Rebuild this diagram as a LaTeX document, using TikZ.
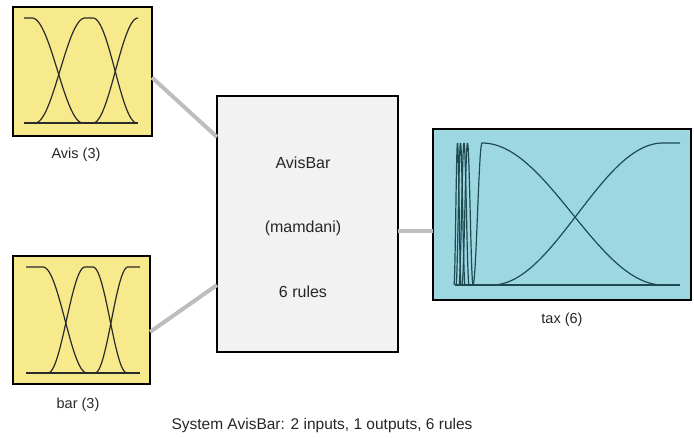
\documentclass[tikz,border=0pt]{standalone}
\usepackage{fontspec}
\setmainfont{Liberation Sans}
\definecolor{mfyellow}{HTML}{F6EA8C}
\definecolor{mfblue}{HTML}{9DD8E2}
\definecolor{mfgray}{HTML}{F2F2F2}
\definecolor{conn}{HTML}{BDBDBD}
\definecolor{curvedark}{HTML}{2A2A2A}
\definecolor{curveteal}{HTML}{1F4A52}
\tikzset{
  mfbox/.style={draw=black, line width=2.5pt, inner sep=0pt, outer sep=0pt},
  sysbox/.style={draw=black, fill=mfgray, line width=2pt, inner sep=0pt, outer sep=0pt},
  conline/.style={draw=conn, line width=4pt},
  curve/.style={draw=curvedark, line width=1.2pt},
  tcurve/.style={draw=curveteal, line width=1.2pt},
  lbl/.style={font=\fontsize{14.5}{17}\selectfont, text=black!85, inner sep=0pt},
  midlbl/.style={font=\fontsize{16}{19}\selectfont, text=black!85, inner sep=0pt},
}
\begin{document}
\begin{tikzpicture}[x=1pt,y=-1pt]
\useasboundingbox (0,0) rectangle (694,437);
% boxes
\node[mfbox, fill=mfyellow, minimum width=139pt, minimum height=129pt] (avis) at (82.5,71.5) {};
\node[mfbox, fill=mfyellow, minimum width=137pt, minimum height=128pt] (bar) at (81.5,320) {};
\node[sysbox, minimum width=181pt, minimum height=256pt] (mid) at (307.5,224) {};
\node[mfbox, fill=mfblue, minimum width=258pt, minimum height=171pt] (tax) at (562,214.5) {};
% connectors
\draw[conline] ([yshift=-6pt]avis.east) -- ([yshift=87pt]mid.west);
\draw[conline] ([yshift=-12pt]bar.east) -- ([yshift=-61pt]mid.west);
\draw[conline] ([yshift=-7pt]mid.east) -- ([yshift=-7pt]mid.east -| tax.west);
% Avis curves (top 18, base 123)
\draw[curve] (24,123) -- (138,123);
\draw[curve] (24,18) -- (32,18) -- plot[domain=32:83,samples=40] (\x,{18+105*(1-cos(180*(\x-32)/51))/2});
\draw[curve] plot[domain=35:85,samples=40] (\x,{123-105*(1-cos(180*(\x-35)/50))/2}) -- (93,18)
  -- plot[domain=93:137,samples=40] (\x,{18+105*(1-cos(180*(\x-93)/44))/2});
\draw[curve] plot[domain=93:138,samples=40] (\x,{123-105*(1-cos(180*(\x-93)/45))/2});
% bar curves (top 267, base 373)
\draw[curve] (26,373) -- (140,373);
\draw[curve] (26,267) -- (43,267) -- plot[domain=43:87,samples=40] (\x,{267+106*(1-cos(180*(\x-43)/44))/2});
\draw[curve] plot[domain=48:85,samples=40] (\x,{373-106*(1-cos(180*(\x-48)/37))/2}) -- (93,267)
  -- plot[domain=93:127,samples=40] (\x,{267+106*(1-cos(180*(\x-93)/34))/2});
\draw[curve] plot[domain=95:128,samples=40] (\x,{373-106*(1-cos(180*(\x-95)/33))/2}) -- (140,267);
% tax curves (top 143, base 285)
\draw[tcurve] (455,285) -- (680,285);
\draw[tcurve] plot[domain=454:461,samples=30] (\x,{285-142*(1-cos(360*(\x-454)/7))/2});
\draw[tcurve] plot[domain=456:465,samples=30] (\x,{285-142*(1-cos(360*(\x-456)/9))/2});
\draw[tcurve] plot[domain=459:469,samples=30] (\x,{285-142*(1-cos(360*(\x-459)/10))/2});
\draw[tcurve] plot[domain=462:473,samples=30] (\x,{285-142*(1-cos(360*(\x-462)/11))/2});
\draw[tcurve] plot[domain=473:482,samples=20] (\x,{285-142*(1-cos(180*(\x-473)/9))/2})
  -- plot[domain=482:663,samples=60] (\x,{143+142*(1-cos(((\x-482)/181)*180))/2});
\draw[tcurve] plot[domain=492:663,samples=60] (\x,{285-142*(1-cos(((\x-492)/171)*180))/2}) -- (680,143);
% texts
\node[lbl] (avislbl) at (76,155) {Avis (3)};
\node[lbl] (barlbl) at (78,405) {bar (3)};
\node[lbl] (taxlbl) at (562,320) {tax (6)};
\node[midlbl] (t1) at (303,163) {AvisBar};
\node[midlbl] (t2) at (303,228) {(mamdani)};
\node[midlbl] (t3) at (303,292) {6 rules};
\node[lbl, font=\fontsize{15.5}{18}\selectfont] (sys) at (322,425) {System AvisBar: 2 inputs, 1 outputs, 6 rules};
\end{tikzpicture}
\end{document}
